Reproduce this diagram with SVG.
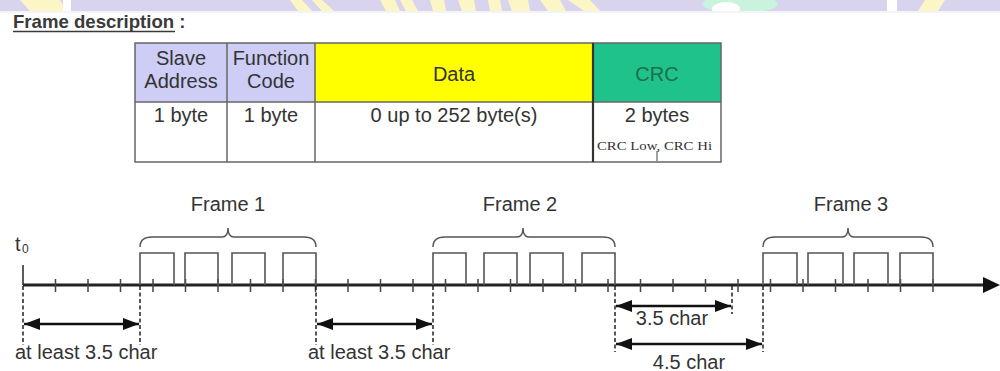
<svg xmlns="http://www.w3.org/2000/svg" width="1000" height="371" viewBox="0 0 1000 371">
<defs>
<marker id="ah" markerUnits="userSpaceOnUse" markerWidth="16" markerHeight="12" refX="16" refY="6" orient="auto-start-reverse"><path d="M0,0 L16,6 L0,12 z" fill="#111"/></marker>
</defs>
<style>
.t{font-family:"Liberation Sans",Arial,sans-serif;fill:#333;font-size:20px}
.c{text-anchor:middle}
.ln{stroke:#666;stroke-width:1.5;fill:none}
.pulse{fill:none;stroke:#555;stroke-width:1.6}
.tick{stroke:#444;stroke-width:1.5;fill:none}
.dash{stroke:#222;stroke-width:1.5;stroke-dasharray:4 2.5}
.arr{stroke:#111;stroke-width:2.5;marker-start:url(#ah);marker-end:url(#ah)}
.brace{fill:none;stroke:#555;stroke-width:1.5}
.wy{fill:#fcf6c6}
</style>
<g id="watermark">
<rect x="0" y="0" width="1000" height="11" fill="#d9d4ee"/>
<polygon class="wy" points="20,0 60,0 67,11 30,11"/>
<rect x="63" y="0" width="8" height="11" fill="#fff"/>
<polygon class="wy" points="290,0 302,0 312,11 298,11"/>
<polygon class="wy" points="312,0 322,0 334,11 322,11"/>
<polygon class="wy" points="380,0 395,0 400,11 386,11"/>
<polygon class="wy" points="400,0 412,0 418,11 406,11"/>
<polygon class="wy" points="430,0 444,0 446,11 433,11"/>
<polygon class="wy" points="458,0 474,0 476,11 462,11"/>
<polygon class="wy" points="488,0 500,0 502,11 490,11"/>
<polygon class="wy" points="508,0 528,0 530,11 512,11"/>
<polygon class="wy" points="540,0 560,0 566,11 548,11"/>
<polygon class="wy" points="568,0 590,0 600,11 584,11"/>
<ellipse cx="740" cy="4" rx="38" ry="9" fill="#c9f3dc"/>
<ellipse cx="726" cy="9" rx="14" ry="7" fill="#fff"/>
<rect x="887" y="0" width="10" height="11" fill="#fff"/>
<polygon class="wy" points="925,0 945,0 938,11 918,11"/>
<rect x="0" y="11" width="1000" height="2" fill="#f4f3f8"/>
</g>
<g id="title">
<text class="t" x="13" y="28" style="font-weight:bold;font-size:18.6px;fill:#3a3a3a">Frame description :</text>
<line x1="13" y1="31.5" x2="175" y2="31.5" stroke="#3a3a3a" stroke-width="1.6"/>
</g>
<g id="table">
<rect x="135" y="43" width="92" height="59" fill="#cdcdf5"/>
<rect x="227" y="43" width="88" height="59" fill="#cdcdf5"/>
<rect x="315" y="43" width="278" height="59" fill="#ffff00"/>
<rect x="593" y="43" width="128" height="59" fill="#20c28c"/>
<rect x="135" y="102" width="586" height="60" fill="#fff"/>
<rect class="ln" x="135" y="43" width="586" height="119"/>
<line class="ln" x1="135" y1="102" x2="721" y2="102"/>
<line class="ln" x1="227" y1="43" x2="227" y2="162"/>
<line class="ln" x1="315" y1="43" x2="315" y2="162"/>
<line x1="593" y1="43" x2="593" y2="162" stroke="#333" stroke-width="2.2"/>
<text class="t c" x="181" y="65">Slave</text>
<text class="t c" x="181" y="88">Address</text>
<text class="t c" x="271" y="65">Function</text>
<text class="t c" x="271" y="88">Code</text>
<text class="t c" x="454" y="81">Data</text>
<text class="t c" x="657" y="81" style="fill:#1e6e4e">CRC</text>
<text class="t c" x="181" y="122">1 byte</text>
<text class="t c" x="271" y="122">1 byte</text>
<text class="t c" x="454" y="122">0 up to 252 byte(s)</text>
<text class="t c" x="657" y="122">2 bytes</text>
<text x="597" y="150" textLength="115" lengthAdjust="spacingAndGlyphs" style="font-family:'Liberation Serif','Times New Roman',serif;font-size:11.5px;fill:#333">CRC Low, CRC Hi</text>
<line x1="657" y1="151" x2="657" y2="161" stroke="#444" stroke-width="1"/>
</g>
<g id="timeline">
<line x1="23" y1="285" x2="986" y2="285" stroke="#222" stroke-width="3"/>
<polygon points="983,277 1000,285 983,293" fill="#111"/>
<line x1="23" y1="265" x2="23" y2="285" stroke="#333" stroke-width="1.6"/>
<text class="t" x="15" y="251">t</text>
<text class="t" x="22" y="253" style="font-size:12px">0</text>
<path class="tick" d="M55.5,279V292M88,279V292M120.5,279V292M153,279V292M185.5,279V292M218,279V292M250.5,279V292M283,279V292M315.5,279V292M348,279V292M380.5,279V292M413,279V292M445.5,279V292M478,279V292M510.5,279V292M543,279V292M575.5,279V292M608,279V292M640.5,279V292M673,279V292M705.5,279V292M738,279V292M770.5,279V292M803,279V292M835.5,279V292M868,279V292M900.5,279V292M933,279V292"/>
</g>
<g id="frame1">
<path class="pulse" d="M140,285V253H174V285M185,285V253H218V285M232,285V253H265V285M283,285V253H316V285"/>
<path class="brace" d="M140,247Q140,237 152,237L222,237Q228,237 228,228Q228,237 234,237L304,237Q316,237 316,247"/>
<text class="t c" x="228" y="211">Frame 1</text>
</g>
<g id="frame2">
<path class="pulse" d="M433,285V253H466V285M484,285V253H517V285M530,285V253H563V285M582,285V253H615V285"/>
<path class="brace" d="M433,247Q433,237 445,237L517,237Q523,237 523,228Q523,237 529,237L603,237Q615,237 615,247"/>
<text class="t c" x="520" y="211">Frame 2</text>
</g>
<g id="frame3">
<path class="pulse" d="M763,285V253H797V285M808,285V253H843V285M854,285V253H888V285M900,285V253H933V285"/>
<path class="brace" d="M763,247Q763,237 775,237L842,237Q848,237 848,228Q848,237 854,237L921,237Q933,237 933,247"/>
<text class="t c" x="851" y="211">Frame 3</text>
</g>
<g id="connectors">
<line class="dash" x1="23" y1="286" x2="23" y2="345"/>
<line class="dash" x1="140" y1="286" x2="140" y2="345"/>
<line class="dash" x1="316" y1="286" x2="316" y2="345"/>
<line class="dash" x1="433" y1="286" x2="433" y2="345"/>
<line class="dash" x1="615" y1="286" x2="615" y2="352"/>
<line class="dash" x1="732" y1="286" x2="732" y2="314"/>
<line class="dash" x1="763" y1="286" x2="763" y2="352"/>
<line class="arr" x1="24" y1="324" x2="139" y2="324"/>
<line class="arr" x1="317" y1="324" x2="432" y2="324"/>
<line class="arr" x1="616" y1="306" x2="731" y2="306"/>
<line class="arr" x1="616" y1="344" x2="762" y2="344"/>
</g>
<g id="labels">
<text class="t" x="15" y="359">at least 3.5 char</text>
<text class="t" x="308" y="359">at least 3.5 char</text>
<text class="t c" x="672" y="325">3.5 char</text>
<text class="t c" x="689" y="369">4.5 char</text>
</g>
</svg>
